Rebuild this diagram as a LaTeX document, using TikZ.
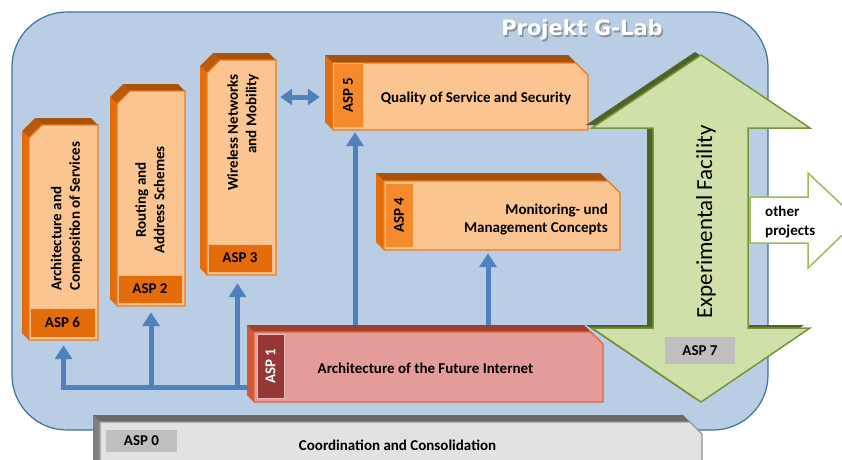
\documentclass[tikz,border=0pt]{standalone}
\usepackage{fontspec}
\setmainfont{Carlito}
\newfontfamily\titlefont{DejaVu Sans}
\usetikzlibrary{arrows.meta,calc}
\definecolor{bgblue}{HTML}{B9CDE5}
\definecolor{bgline}{HTML}{41719C}
\definecolor{arrowblue}{HTML}{4F81BD}
\definecolor{orFace}{HTML}{FBC592}
\definecolor{orLine}{HTML}{EC7A1C}
\definecolor{orSide}{HTML}{E46C0A}
\definecolor{orTop}{HTML}{A9520B}
\definecolor{orBandD}{HTML}{E46C0A}
\definecolor{orBandL}{HTML}{F58A2C}
\definecolor{orBandEdge}{HTML}{FAB98A}
\definecolor{rdFace}{HTML}{E49C9B}
\definecolor{rdLine}{HTML}{E0643C}
\definecolor{rdSide}{HTML}{D05A36}
\definecolor{rdTop}{HTML}{A0402F}
\definecolor{rdBand}{HTML}{953735}
\definecolor{gyFace}{HTML}{E2E2E2}
\definecolor{gyLine}{HTML}{969696}
\definecolor{gySide}{HTML}{7F7F7F}
\definecolor{gyTop}{HTML}{6A6A6A}
\definecolor{gyBand}{HTML}{BFBFBF}
\definecolor{grFill}{HTML}{CFE1A9}
\definecolor{grLine}{HTML}{77933C}
\definecolor{grDark}{HTML}{4F6228}
\definecolor{wtLine}{HTML}{9BBB59}
\pgfdeclarelayer{bg}
\pgfsetlayers{bg,main}
\tikzset{
  barrow/.style={draw=arrowblue, line width=5pt, -{Triangle[width=17pt,length=14pt]}},
  bdarrow/.style={draw=arrowblue, line width=5pt, {Triangle[width=16pt,length=12pt]}-{Triangle[width=16pt,length=12pt]}},
  txt/.style={font=\fontsize{15}{18.5}\selectfont\bfseries, inner sep=0pt, text=black},
  bandtxt/.style={font=\fontsize{15}{18}\selectfont\bfseries, inner sep=0pt},
  bandD/.style={fill=orBandD, draw=orBandEdge, line width=0.8pt},
  bandL/.style={fill=orBandL, draw=orBandEdge, line width=0.8pt},
}
% horizontal block, chamfer top right: x1 y1 x2 y2 depth chamfer colourprefix name
\newcommand{\HBlock}[8]{%
  \fill[#7Side] (#1,#2) -- ({#1+#5},{#2+#5}) -- ({#1+#5},#4) -- (#1,{#4-#5}) -- cycle;
  \fill[#7Top] (#1,#2) -- ({#3-#5-#6},#2) -- ({#3-#6},{#2+#5}) -- ({#1+#5},{#2+#5}) -- cycle;
  \fill[#7Top!75!#7Side] ({#3-#5-#6},#2) -- ({#3-#5},{#2+#6}) -- (#3,{#2+#5+#6}) -- ({#3-#6},{#2+#5}) -- cycle;
  \filldraw[fill=#7Face,draw=#7Line,line width=1.3pt] ({#1+#5},{#2+#5}) -- ({#3-#6},{#2+#5}) -- (#3,{#2+#5+#6}) -- (#3,#4) -- ({#1+#5},#4) -- cycle;
  \node[inner sep=0pt,minimum width={#3-#1-#5},minimum height={#4-#2-#5}] (#8) at ({(#1+#5+#3)/2},{(#2+#5+#4)/2}) {};
}
% vertical block, chamfer top left: x1 y1 x2 y2 depth chamfer name
\newcommand{\VBlock}[7]{%
  \fill[orTop!70!orSide] (#1,{#2+#6}) -- ({#1+#6},#2) -- ({#1+#6+#5},{#2+#5}) -- ({#1+#5},{#2+#6+#5}) -- cycle;
  \fill[orTop] ({#1+#6},#2) -- ({#3-#5},#2) -- (#3,{#2+#5}) -- ({#1+#6+#5},{#2+#5}) -- cycle;
  \fill[orSide] (#1,{#2+#6}) -- ({#1+#5},{#2+#6+#5}) -- ({#1+#5},#4) -- (#1,{#4-#5}) -- cycle;
  \filldraw[fill=orFace,draw=orLine,line width=1.3pt] ({#1+#5},{#2+#6+#5}) -- ({#1+#6+#5},{#2+#5}) -- (#3,{#2+#5}) -- (#3,#4) -- ({#1+#5},#4) -- cycle;
  \node[inner sep=0pt,minimum width={#3-#1-#5},minimum height={#4-#2-#5}] (#7) at ({(#1+#5+#3)/2},{(#2+#5+#4)/2}) {};
}
\begin{document}
\begin{tikzpicture}[x=1pt,y=-1pt]
\useasboundingbox (0,0) rectangle (842,459);
\clip (0,0) rectangle (842,459);

% blocks
\VBlock{22}{118}{98}{340}{7}{13}{asp6}
\VBlock{110}{84}{185}{306}{7}{13}{asp2}
\VBlock{200}{53}{276}{275}{7}{13}{asp3}
\HBlock{325}{55}{588}{130}{8}{12}{or}{asp5}
\HBlock{376}{173}{620}{250}{8}{12}{or}{asp4}
\HBlock{247}{325}{603}{402}{7}{12}{rd}{asp1}
\HBlock{93}{415}{702}{480}{7}{12}{gy}{asp0}

\begin{pgfonlayer}{bg}
  \fill[white] (0,0) rectangle (842,459);
  \filldraw[fill=bgblue, draw=bgline, line width=1.2pt, rounded corners=55pt] (12,12) rectangle (768,430);
  \coordinate (fork) at (247,387);
  \coordinate (a3) at ([xshift=-4pt]asp3.south);
  \coordinate (q5) at (355,0);
  \coordinate (q4) at (488,0);
  \coordinate (dy) at (0,97);
  \draw[barrow, shorten >=5pt] (fork) -| (asp6.south);
  \draw[barrow, shorten >=6pt] (fork -| asp2.south) -- (asp2.south);
  \draw[barrow, shorten >=8pt] (fork -| a3) -- (a3);
  \draw[barrow, shorten >=2pt] (asp1.north -| q5) -- (asp5.south -| q5);
  \draw[barrow, shorten >=3pt] (asp1.north -| q4) -- (asp4.south -| q4);
  \draw[bdarrow, shorten <=4pt, shorten >=13pt] (asp3.east |- dy) -- (asp5.west |- dy);
\end{pgfonlayer}

% bands
\draw[bandD] (30,308) rectangle (95,337);
\node[bandtxt] (b6) at (62.5,322.5) {ASP 6};
\draw[bandD] (118,275) rectangle (182,303);
\node[bandtxt] (b2) at (150,289) {ASP 2};
\draw[bandD] (208,244) rectangle (272,272);
\node[bandtxt] (b3) at (240,258) {ASP 3};
\draw[bandL] (333,63) rectangle (363,127);
\node[bandtxt, rotate=90] (b5) at (348,95) {ASP 5};
\draw[bandL] (385,183) rectangle (413,247);
\node[bandtxt, rotate=90] (b4) at (399,215) {ASP 4};
\draw[fill=rdBand, draw=rdFace!70!white, line width=0.8pt] (257,334) rectangle (284,398);
\node[bandtxt, rotate=90, text=white] (b1) at (270.5,366) {ASP 1};
\fill[gyBand] (106,430) rectangle (177,452);
\node[bandtxt] (b0) at (141.5,441) {ASP 0};

% texts in blocks
\node[txt, rotate=90, anchor=west, align=left] (t6) at (66.5,291) {Architecture and\\Composition of Services};
\node[txt, rotate=90, align=center] (t2) at (150,200) {Routing and\\Address Schemes};
\node[txt, rotate=90, anchor=east, align=right] (t3) at (243,74) {Wireless Networks\\and Mobility};
\node[txt] (t5) at (476,98) {Quality of Service and Security};
\node[txt, anchor=east, align=right] (t4) at (608,219.5) {Monitoring- und\\Management Concepts};
\node[txt] (t1) at (425.5,368) {Architecture of the Future Internet};
\node[txt] (t0) at (397.5,445) {Coordination and Consolidation};

% green double arrow
\fill[grDark, shift={(-6,-3)}] (701,55) -- (810,128) -- (748,128) -- (748,328) -- (810,328) -- (701,402) -- (592,328) -- (653,328) -- (653,128) -- (592,128) -- cycle;
\filldraw[fill=grFill, draw=grLine, line width=1.5pt, line join=miter] (701,55) -- (810,128) -- (748,128) -- (748,328) -- (810,328) -- (701,402) -- (592,328) -- (653,328) -- (653,128) -- (592,128) -- cycle;
\node[font=\fontsize{23}{26}\selectfont, rotate=90, inner sep=0pt] (ef) at (706,222) {Experimental Facility};
\fill[gyBand] (665,337) rectangle (735,364);
\node[bandtxt] (b7) at (700,350.5) {ASP 7};

% other projects arrow
\filldraw[fill=white, draw=wtLine, line width=1.5pt] (750,197) -- (808,197) -- (808,173) -- (858,220) -- (808,268) -- (808,243) -- (750,243) -- cycle;
\node[txt, anchor=west, align=left, font=\fontsize{15}{19}\selectfont\bfseries] (op) at (765,222) {other\\projects};

% title
\node[font=\titlefont\fontsize{21}{24}\selectfont\bfseries, text=gray!60!black, opacity=0.45, inner sep=0pt] (ttls) at (583.5,31.5) {Projekt G-Lab};
\node[font=\titlefont\fontsize{21}{24}\selectfont\bfseries, text=white, inner sep=0pt] (ttl) at (582,30) {Projekt G-Lab};
\end{tikzpicture}
\end{document}
